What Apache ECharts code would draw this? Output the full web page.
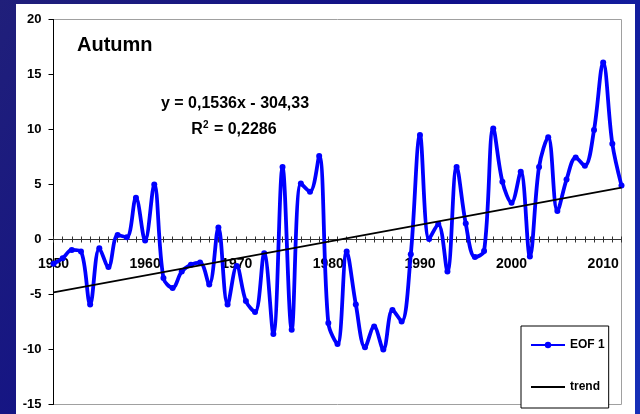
<!DOCTYPE html>
<html>
<head>
<meta charset="utf-8">
<script src="https://cdn.jsdelivr.net/npm/echarts@6/dist/echarts.min.js"></script>
<style>
  html, body { margin: 0; padding: 0; }
  #chart { width: 640px; height: 414px; }
</style>
</head>
<body>
<div id="chart"></div>
<script>
// Autumn EOF 1 time series, 1950-2012, with its linear trend
const years = [
  '1950','1951','1952','1953','1954','1955','1956','1957','1958','1959',
  '1960','1961','1962','1963','1964','1965','1966','1967','1968','1969',
  '1970','1971','1972','1973','1974','1975','1976','1977','1978','1979',
  '1980','1981','1982','1983','1984','1985','1986','1987','1988','1989',
  '1990','1991','1992','1993','1994','1995','1996','1997','1998','1999',
  '2000','2001','2002','2003','2004','2005','2006','2007','2008','2009',
  '2010','2011','2012'
];
const eof1 = [
  -2.2, -1.7, -0.95, -1.1, -5.9, -0.8, -2.5, 0.4, 0.2, 3.8,
  -0.1, 5.0, -3.5, -4.4, -2.9, -2.3, -2.1, -4.1, 1.1, -5.9,
  -2.4, -5.6, -6.6, -1.25, -8.6, 6.6, -8.2, 5.1, 4.35, 7.6,
  -7.6, -9.5, -1.1, -5.9, -9.8, -7.9, -10.0, -6.4, -7.45, -1.35,
  9.5, 0.05, 1.4, -2.9, 6.6, 1.45, -1.6, -1.05, 10.1, 5.25,
  3.35, 6.15, -1.55, 6.6, 9.3, 2.6, 5.45, 7.45, 6.7, 9.95,
  16.1, 8.7, 4.9
];
const trendSlope = 0.1536;
const trendIntercept = -304.33;
const rSquared = 0.2286;
const yTicks = { min: -15, max: 20, step: 5 };

const FONT = '"Liberation Sans", Arial, sans-serif';
const comma = (v, d) => v.toFixed(d).replace('.', ',');

const trendEnds = [years[0], years[years.length - 1]].map(y => [y, trendSlope * Number(y) + trendIntercept]);
const eqText = 'y = ' + comma(trendSlope, 4) + 'x - ' + comma(-trendIntercept, 2);
const r2Rich = '{n|R}{s|2}{n| = ' + comma(rSquared, 4) + '}';

const CHART_H = 414;
const plotBox = { left: 53.5, top: 19.5, right: 18.5, bottom: 9.5, outerBoundsMode: 'none' };
// the category axis crosses the value axis at 0: shift it there from the plot edges
const plotH = CHART_H - plotBox.top - plotBox.bottom;
const zeroFromBottom = (0 - yTicks.min) / (yTicks.max - yTicks.min) * plotH;
const zeroFromTop = plotH - zeroFromBottom;

const chart = echarts.init(document.getElementById('chart'), null, { renderer: 'canvas' });

chart.setOption({
  animation: false,
  backgroundColor: {
    type: 'linear', x: 0, y: 0, x2: 1, y2: 1,
    colorStops: [
      { offset: 0, color: '#201f7a' },
      { offset: 0.5, color: '#0f0f8a' },
      { offset: 1, color: '#1630b8' }
    ]
  },
  graphic: [
    { type: 'rect', z: -10, shape: { x: 16, y: 4, width: 619, height: 410 }, style: { fill: '#ffffff' } },
    { type: 'text', z: 100, x: 77, y: 45,
      style: { text: 'Autumn', font: 'bold 20px ' + FONT, fill: '#000', textVerticalAlign: 'middle' } },
    { type: 'text', z: 100, x: 235, y: 104,
      style: { text: eqText, font: 'bold 16px ' + FONT, fill: '#000', textAlign: 'center', textVerticalAlign: 'middle' } },
    { type: 'text', z: 100, x: 234, y: 129,
      style: {
        text: r2Rich, fill: '#000', textAlign: 'center', textVerticalAlign: 'middle',
        rich: {
          n: { fontFamily: FONT, fontWeight: 'bold', fontSize: 16, lineHeight: 18, verticalAlign: 'bottom' },
          s: { fontFamily: FONT, fontWeight: 'bold', fontSize: 10, lineHeight: 18, verticalAlign: 'top', padding: [0, 1, 0, 0] }
        }
      } }
  ],
  grid: [
    Object.assign({ show: true, backgroundColor: '#ffffff', borderColor: '#a0a0a0', borderWidth: 1 }, plotBox),
    Object.assign({ show: false }, plotBox)
  ],
  xAxis: [
    {
      gridIndex: 0,
      type: 'category',
      data: years,
      boundaryGap: false,
      position: 'bottom',
      offset: -zeroFromBottom,
      axisLine: { onZero: false, lineStyle: { color: '#333', width: 1 } },
      axisTick: { show: true, interval: 0, length: 3, lineStyle: { color: '#333' } },
      axisLabel: { show: true, interval: 9, margin: 18, color: '#000', fontFamily: FONT, fontWeight: 'bold', fontSize: 14 },
      splitLine: { show: false }
    },
    {
      gridIndex: 1,
      type: 'category',
      data: years,
      boundaryGap: false,
      position: 'top',
      offset: -zeroFromTop,
      axisLine: { onZero: false, show: false },
      axisTick: { show: true, interval: 0, length: 3, lineStyle: { color: '#333' } },
      axisLabel: { show: false },
      splitLine: { show: false }
    }
  ],
  yAxis: [
    {
      gridIndex: 0,
      type: 'value',
      min: yTicks.min, max: yTicks.max, interval: yTicks.step,
      axisLine: { show: true, onZero: false, lineStyle: { color: '#000', width: 1 } },
      axisTick: { show: true, length: 5, lineStyle: { color: '#000' } },
      axisLabel: { margin: 12, color: '#000', fontFamily: FONT, fontWeight: 'bold', fontSize: 13 },
      splitLine: { show: false }
    },
    {
      gridIndex: 1,
      type: 'value',
      min: yTicks.min, max: yTicks.max, interval: yTicks.step,
      axisLine: { show: false, onZero: false },
      axisTick: { show: false },
      axisLabel: { show: false },
      splitLine: { show: false }
    }
  ],
  legend: {
    orient: 'vertical',
    left: 521, top: 326,
    padding: [13, 4, 15, 9],
    itemGap: 30, itemWidth: 34, itemHeight: 8,
    borderColor: '#000', borderWidth: 1, borderRadius: 0,
    backgroundColor: '#fff',
    selectedMode: false,
    textStyle: { color: '#000', fontFamily: FONT, fontWeight: 'bold', fontSize: 12 },
    data: [
      { name: 'EOF 1' },
      { name: 'trend', icon: 'path://M0,0H34V2H0Z' }
    ]
  },
  series: [
    {
      name: 'EOF 1',
      type: 'line',
      xAxisIndex: 0, yAxisIndex: 0,
      data: eof1,
      smooth: 0.35,
      symbol: 'circle',
      symbolSize: 6,
      showAllSymbol: true,
      color: '#0000ff',
      lineStyle: { color: '#0000ff', width: 3.8 },
      itemStyle: { color: '#0000ff' },
      z: 3
    },
    {
      name: 'trend',
      type: 'line',
      xAxisIndex: 0, yAxisIndex: 0,
      data: trendEnds,
      symbol: 'none',
      color: '#000',
      lineStyle: { color: '#000', width: 1.8 },
      itemStyle: { color: '#000' },
      z: 4
    }
  ]
});
</script>
</body>
</html>
